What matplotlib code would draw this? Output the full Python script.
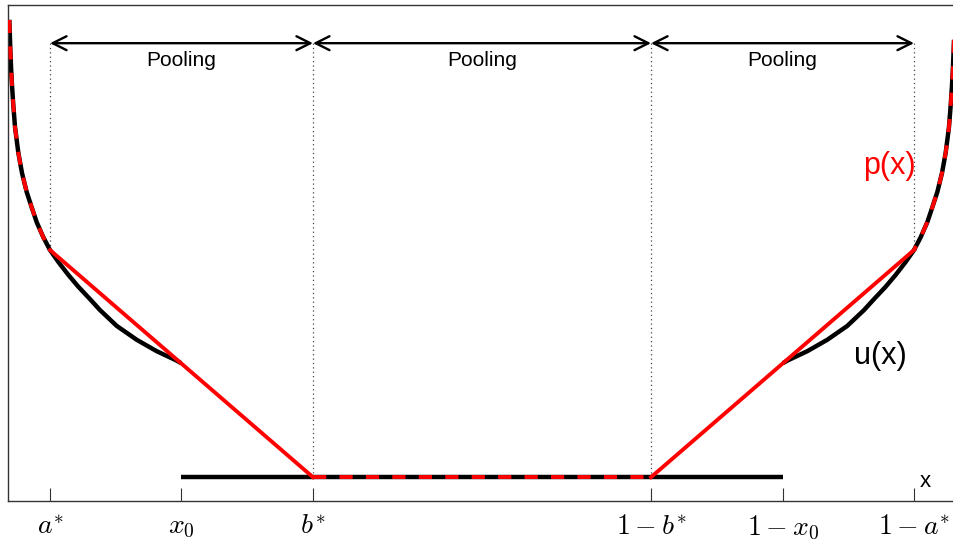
import numpy as np
import matplotlib.pyplot as plt

plt.rcParams['mathtext.fontset'] = 'cm'
plt.rcParams['font.family'] = ['Liberation Sans', 'DejaVu Sans']

# Points clés sur l'axe x
a_star = 0.0443
x0 = 0.1825
b_star = 0.3217
tick_pos = [a_star, x0, b_star, 1 - b_star, 1 - x0, 1 - a_star]
tick_labels = [r'$a^{*}$', r'$x_0$', r'$b^{*}$', r'$1-b^{*}$', r'$1-x_0$', r'$1-a^{*}$']

# Courbe u(x) sur la partie gauche, de x=0 a x0
u_x = [0.0014, 0.0023, 0.0032, 0.0042, 0.0056, 0.0074, 0.0109, 0.0148, 0.0197,
       0.0250, 0.0303, 0.0372, 0.0443,
       0.0531, 0.0636, 0.0742, 0.0865, 0.0970, 0.1147, 0.1358, 0.1569, 0.1780,
       0.1825]
u_y = [0.970, 0.919, 0.875, 0.839, 0.798, 0.754, 0.702, 0.661, 0.623,
       0.592, 0.562, 0.532, 0.506,
       0.482, 0.456, 0.432, 0.407, 0.385, 0.353, 0.325, 0.302, 0.283,
       0.278]
u_flat = 0.048

u_x = np.array(u_x)
u_y = np.array(u_y)
n_a = 13  # nombre de points jusqu'a a*

fig = plt.figure(figsize=(9.54, 5.46), dpi=100)
ax = fig.add_axes([8/954, 45/546, 948/954, 496/546])

black_lw = 3.2
red_lw = 2.8
dash = (3.4, 3.4)

# u(x) en noir
ax.plot(u_x, u_y, color='black', lw=black_lw, solid_capstyle='butt', zorder=2)
ax.plot(1 - u_x, u_y, color='black', lw=black_lw, solid_capstyle='butt', zorder=2)
ax.plot([x0, 1 - x0], [u_flat, u_flat], color='black', lw=black_lw,
        solid_capstyle='butt', zorder=2)

# p(x) en rouge
ax.plot(u_x[:n_a], u_y[:n_a], color='red', lw=red_lw, dashes=dash,
        dash_capstyle='butt', zorder=3)
ax.plot(1 - u_x[:n_a], u_y[:n_a], color='red', lw=red_lw, dashes=dash,
        dash_capstyle='butt', zorder=3)
ax.plot([b_star, 1 - b_star], [u_flat, u_flat], color='red', lw=red_lw,
        dashes=dash, dash_capstyle='butt', zorder=3)
ax.plot([a_star, b_star], [u_y[n_a - 1], u_flat], color='red', lw=red_lw, zorder=3)
ax.plot([1 - a_star, 1 - b_star], [u_y[n_a - 1], u_flat], color='red', lw=red_lw, zorder=3)

# Fleches "Pooling"
y_arrow = 0.923
bounds = [a_star, b_star, 1 - b_star, 1 - a_star]
for i in range(3):
    ax.annotate('', xy=(bounds[i], y_arrow), xytext=(bounds[i + 1], y_arrow),
                arrowprops=dict(arrowstyle='<->', color='black', lw=1.7,
                                mutation_scale=25, shrinkA=0, shrinkB=0))
    ax.text((bounds[i] + bounds[i + 1]) / 2, 0.889, 'Pooling', ha='center',
            va='center', fontsize=15)

# Lignes pointillees
dot_kw = dict(ls=(0, (1, 2.5)), color='#444444', lw=0.9, zorder=1)
ax.plot([a_star, a_star], [y_arrow, u_y[n_a - 1]], **dot_kw)
ax.plot([1 - a_star, 1 - a_star], [y_arrow, u_y[n_a - 1]], **dot_kw)
ax.plot([b_star, b_star], [y_arrow, u_flat], **dot_kw)
ax.plot([1 - b_star, 1 - b_star], [y_arrow, u_flat], **dot_kw)

ax.text(0.9295, 0.676, 'p(x)', color='red', fontsize=22, ha='center', va='center')
ax.text(0.920, 0.292, 'u(x)', color='black', fontsize=22, ha='center', va='center')
ax.text(0.968, 0.040, 'x', fontsize=16, ha='center', va='center')

ax.set_xlim(0, 1)
ax.set_ylim(0, 1)
ax.set_xticks(tick_pos)
ax.set_xticklabels(tick_labels, fontsize=20)
ax.set_yticks([])
ax.tick_params(axis='x', direction='in', length=9.5, width=0.8, color='#333333', pad=9)
for s in ax.spines.values():
    s.set_color('#333333')
    s.set_linewidth(1.0)

fig.savefig('out.png', dpi=100)
